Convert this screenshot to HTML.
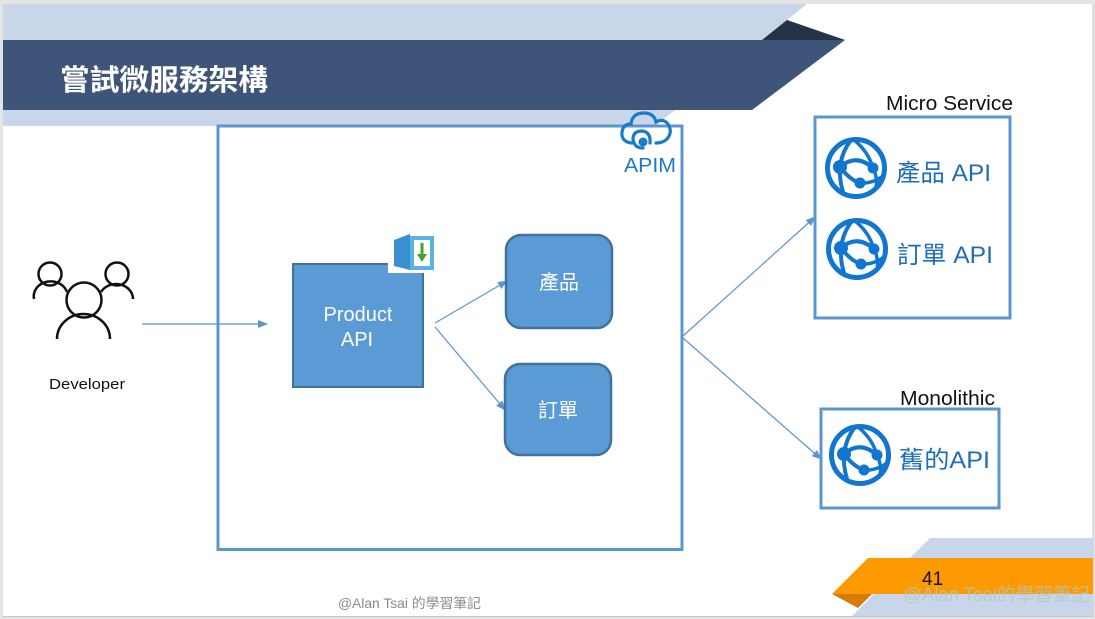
<!DOCTYPE html>
<html><head><meta charset="utf-8">
<style>
html,body{margin:0;padding:0;background:#e4e4e4;}
svg{display:block;}
text{font-family:"Liberation Sans","Noto Sans CJK TC",sans-serif;}
</style></head>
<body>
<svg width="1095" height="619" viewBox="0 0 1095 619" xmlns="http://www.w3.org/2000/svg">
<defs>
  <marker id="ah" markerWidth="10" markerHeight="8" refX="9" refY="4" orient="auto" markerUnits="userSpaceOnUse">
    <path d="M0,0 L10,4 L0,8 z" fill="#5b95cf"/>
  </marker>
  <g id="globe">
    <circle cx="0" cy="0" r="28.5" fill="none" stroke="#1176cf" stroke-width="5"/>
    <path d="M-5,-28 Q-22,-6 -13,24" fill="none" stroke="#1176cf" stroke-width="4"/>
    <path d="M-16,-1 Q0,-15 17,0" fill="none" stroke="#1176cf" stroke-width="4"/>
    <path d="M-16,-1 Q-6,12 4,15" fill="none" stroke="#1176cf" stroke-width="4"/>
    <path d="M4,15 Q16,16 27,8" fill="none" stroke="#1176cf" stroke-width="3.5"/>
    <path d="M17,0 Q22,10 20,20" fill="none" stroke="#1176cf" stroke-width="3.5"/>
    <path d="M-2,-28 Q12,-17 17,0" fill="none" stroke="#1176cf" stroke-width="3.5"/>
    <circle cx="-16" cy="-1" r="7" fill="#1176cf"/>
    <circle cx="17" cy="0" r="5.5" fill="#1176cf"/>
    <circle cx="4" cy="15" r="5.5" fill="#1176cf"/>
  </g>
</defs>

<!-- slide background -->
<rect x="3" y="4" width="1090" height="612" fill="#ffffff"/>
<line x1="1093" y1="4" x2="1093" y2="617" stroke="#c8c8c8" stroke-width="1"/>
<line x1="3" y1="616.5" x2="1093" y2="616.5" stroke="#c8c8c8" stroke-width="1"/>

<!-- header bands -->
<polygon points="3,4 807,4 655,126 3,126" fill="#c9d5e8"/>
<polygon points="787,20 845,40 762,40" fill="#263248"/>
<polygon points="3,40 845,40 752,110 3,110" fill="#3f5479"/>
<text x="60" y="90" font-size="29" font-weight="bold" fill="#ffffff" textLength="208" lengthAdjust="spacingAndGlyphs">嘗試微服務架構</text>

<!-- footer bands -->
<polygon points="930,538 1093,538 1093,616 852,616" fill="#c9d5e8"/>
<polygon points="868,558 1093,558 1093,594 832,594" fill="#fd9a02"/>
<polygon points="832,594 872,594 858,608" fill="#d67a0a"/>
<text x="922" y="585" font-size="19" fill="#111">41</text>
<text x="903" y="601" font-size="19" fill="#a9c9cb" fill-opacity="0.75" textLength="187" lengthAdjust="spacingAndGlyphs">@Alan Tsai的學習筆記</text>
<text x="338" y="608" font-size="13.5" fill="#8a8a8a" textLength="143" lengthAdjust="spacingAndGlyphs">@Alan Tsai 的學習筆記</text>

<!-- APIM box -->
<rect x="218" y="126" width="464" height="423.5" fill="none" stroke="#5b96cf" stroke-width="3"/>
<!-- cloud icon -->
<g fill="none" stroke="#1a7bc8" stroke-width="3.2" stroke-linecap="round">
  <path d="M632,143 Q621,142 622,132 Q623,124 631,124 Q632,113 644,113 Q654,113 656,122 Q663,118 668,124 Q673,132 667,139 Q663,143 656,143"/>
  <path d="M650,143 Q651,132 642,131 Q633,131 633,139 Q634,148 643,148"/>
</g>
<circle cx="643" cy="142" r="4.5" fill="#1a7bc8"/>
<text x="624" y="172" font-size="20.5" fill="#1f79c4" textLength="52" lengthAdjust="spacingAndGlyphs">APIM</text>

<!-- Developer -->
<g fill="none" stroke="#111" stroke-width="2.5">
  <circle cx="50" cy="274" r="11.5"/>
  <circle cx="117" cy="274" r="11.5"/>
  <circle cx="84" cy="300" r="17.5"/>
  <path d="M34,299 A17,15 0 0 1 67,292"/>
  <path d="M101,292 A17,15 0 0 1 133,299"/>
  <path d="M57,339 A26.5,25 0 0 1 110,339"/>
</g>
<text x="49" y="389" font-size="15" fill="#111" textLength="76" lengthAdjust="spacingAndGlyphs">Developer</text>

<!-- arrows -->
<g stroke="#5b95cf" stroke-width="1.2" fill="none" marker-end="url(#ah)">
  <line x1="142" y1="324" x2="267" y2="324"/>
  <line x1="435" y1="323" x2="507" y2="281"/>
  <line x1="435" y1="327" x2="505" y2="410"/>
  <line x1="683" y1="336" x2="815" y2="217"/>
  <line x1="683" y1="338" x2="821" y2="459"/>
</g>

<!-- Product API -->
<rect x="293" y="264" width="130" height="123" fill="#5b9bd5" stroke="#41719c" stroke-width="2"/>
<rect x="388" y="230" width="48" height="43" fill="#ffffff"/>
<g>
  <polygon points="394,240 410,234 410,270 394,266" fill="#3a8fd0"/>
  <rect x="410" y="236" width="24" height="34" fill="#59b4df"/>
  <rect x="414" y="240" width="16" height="26" fill="#ffffff"/>
  <rect x="420.5" y="243" width="3" height="12" fill="#4aa02c"/>
  <polygon points="417,254 427,254 422,262" fill="#4aa02c"/>
</g>
<text x="358" y="321" font-size="20" fill="#ffffff" text-anchor="middle">Product</text>
<text x="357" y="346" font-size="20" fill="#ffffff" text-anchor="middle">API</text>

<!-- service boxes -->
<rect x="506" y="235" width="106" height="93" rx="15" fill="#5b9bd5" stroke="#41719c" stroke-width="2.5"/>
<text x="559" y="289" font-size="20" fill="#ffffff" text-anchor="middle">產品</text>
<rect x="505" y="364" width="106" height="91" rx="15" fill="#5b9bd5" stroke="#41719c" stroke-width="2.5"/>
<text x="558" y="417" font-size="20" fill="#ffffff" text-anchor="middle">訂單</text>

<!-- Micro Service -->
<text x="886" y="110" font-size="20.5" fill="#111" textLength="127" lengthAdjust="spacingAndGlyphs">Micro Service</text>
<rect x="815" y="117" width="195" height="201" fill="none" stroke="#5b96cf" stroke-width="3"/>
<use href="#globe" x="856" y="168"/>
<use href="#globe" x="857" y="249"/>
<text x="896" y="181" font-size="24" fill="#1d6db8" textLength="95" lengthAdjust="spacingAndGlyphs">產品 API</text>
<text x="897" y="263" font-size="24" fill="#1d6db8" textLength="96" lengthAdjust="spacingAndGlyphs">訂單 API</text>

<!-- Monolithic -->
<text x="900" y="405" font-size="20.5" fill="#111" textLength="95" lengthAdjust="spacingAndGlyphs">Monolithic</text>
<rect x="821" y="409" width="178" height="99" fill="none" stroke="#5b96cf" stroke-width="3"/>
<use href="#globe" x="860" y="455"/>
<text x="899" y="468" font-size="24" fill="#1d6db8" textLength="91" lengthAdjust="spacingAndGlyphs">舊的API</text>
</svg>
</body></html>
